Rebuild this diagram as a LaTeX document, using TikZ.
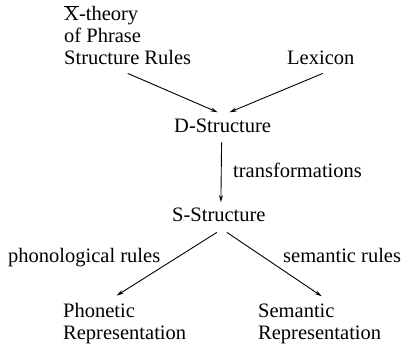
\documentclass[tikz,border=0pt]{standalone}
\usepackage{fontspec}
\setmainfont{Liberation Serif}
\usetikzlibrary{arrows.meta}
\begin{document}
\begin{tikzpicture}[x=1pt,y=-1pt,
  lbl/.style={inner sep=0pt,anchor=base west,align=left,font=\fontsize{20.5}{22}\selectfont},
  conn/.style={line width=0.9pt,-{Stealth[length=7pt,width=4pt]}}]
\useasboundingbox (0,0) rectangle (405,347);
\node[lbl] (psr) at (64,65) {$\overline{\mbox{X}}$-theory\\of Phrase\\Structure Rules};
\node[lbl] (lex) at (287,65) {Lexicon};
\node[lbl] (ds) at (174,133) {D-Structure};
\node[lbl] (tr) at (233,178) {transformations};
\node[lbl] (ss) at (172,222) {S-Structure};
\node[lbl] (pr) at (8,263) {phonological rules};
\node[lbl] (sr) at (283,263) {semantic rules};
\node[lbl] (phon) at (63,340) {Phonetic\\Representation};
\node[lbl] (sem) at (258,340) {Semantic\\Representation};
\draw[conn] ([yshift=-8pt]psr.south) -- ([xshift=-5pt,yshift=7pt]ds.north);
\draw[conn] ([xshift=2pt,yshift=-8pt]lex.south) -- ([xshift=7pt,yshift=7pt]ds.north);
\draw[conn] ([xshift=-1pt,yshift=-9pt]ds.south) -- ([xshift=2pt,yshift=6pt]ss.north);
\draw[conn] ([xshift=-2pt,yshift=-10pt]ss.south) -- ([xshift=-8pt,yshift=8pt]phon.north);
\draw[conn] ([xshift=8pt,yshift=-10pt]ss.south) -- ([xshift=2pt,yshift=8pt]sem.north);
\end{tikzpicture}
\end{document}
